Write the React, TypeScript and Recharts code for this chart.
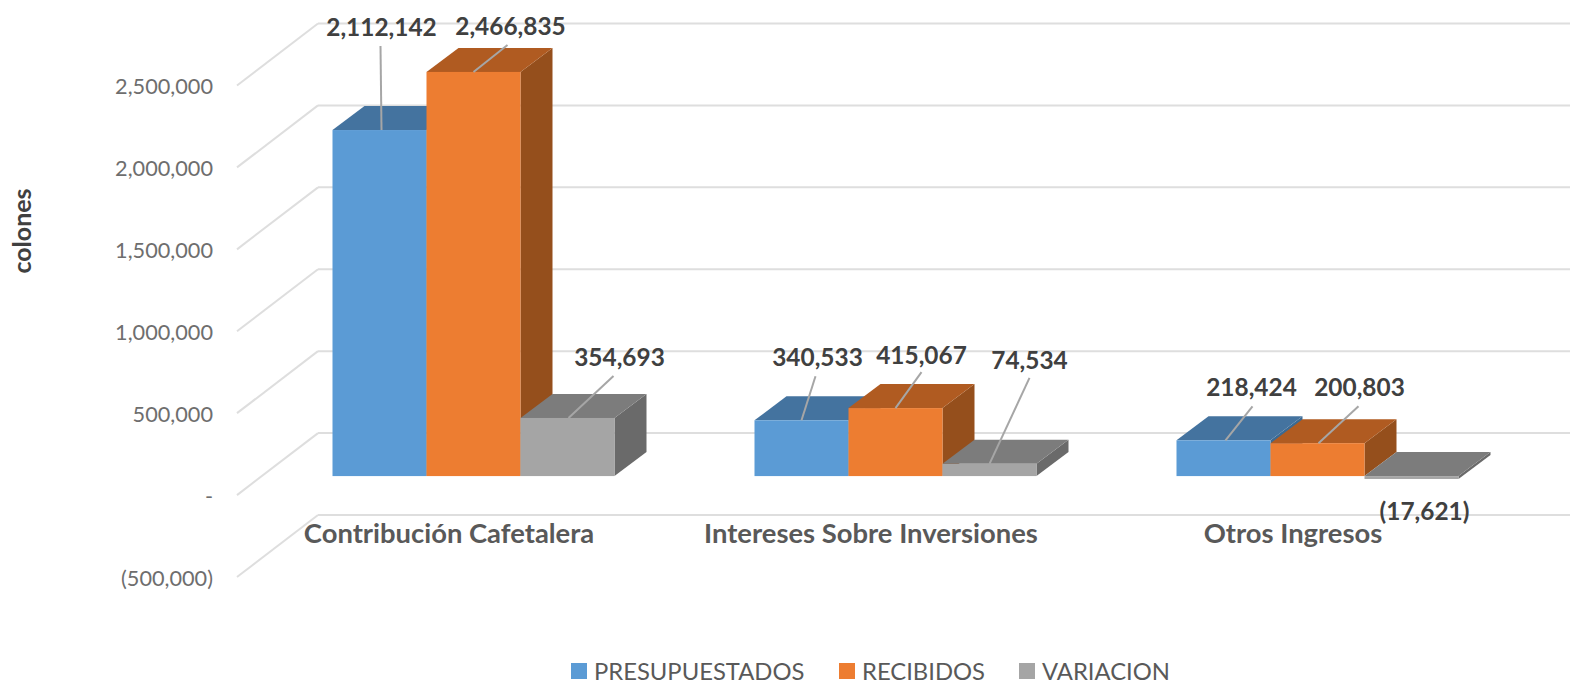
import React from 'react';
import { BarChart, Bar, XAxis, YAxis, CartesianGrid, Legend, LabelList } from 'recharts';

const CATEGORIES = ['Contribución Cafetalera', 'Intereses Sobre Inversiones', 'Otros Ingresos'];
const PRESUPUESTADOS = [2112142, 340533, 218424];
const RECIBIDOS = [2466835, 415067, 200803];
const VARIACION = [354693, 74534, -17621];
const Y_TICKS = [-500000, 0, 500000, 1000000, 1500000, 2000000, 2500000];

const rows = CATEGORIES.map((name, i) => ({
  name,
  PRESUPUESTADOS: PRESUPUESTADOS[i],
  RECIBIDOS: RECIBIDOS[i],
  VARIACION: VARIACION[i],
}));

const DEPTH_X = 32;
const DEPTH_Y = 24;
const FONT = 'Lato, "Open Sans", sans-serif';

const PALETTE = {
  PRESUPUESTADOS: { front: '#5B9BD5', top: '#44739F', side: '#3B6A93' },
  RECIBIDOS: { front: '#ED7D31', top: '#B05B21', side: '#954F1C' },
  VARIACION: { front: '#A5A5A5', top: '#7C7C7C', side: '#6A6A6A' },
};

// Label placement relative to each bar's top-left corner: text centre, leader start, leader end.
const LABEL_LAYOUT = {
  PRESUPUESTADOS: [
    { t: [49, -104], a: [49, 0], b: [48, -84] },
    { t: [63, -64], a: [47, 0], b: [61, -44] },
    { t: [75, -54], a: [49, 0], b: [76, -34] },
  ],
  RECIBIDOS: [
    { t: [84, -46], a: [47, 0], b: [81, -27] },
    { t: [73, -54], a: [47, 0], b: [73, -36] },
    { t: [89, -57], a: [48, 0], b: [88, -37] },
  ],
  VARIACION: [
    { t: [99, -61], a: [48, 0], b: [93, -42] },
    { t: [87, -104], a: [47, 0], b: [87, -86] },
    { t: [60, 34], a: null, b: null },
  ],
};

const LEGEND_LEFT = { PRESUPUESTADOS: 571, RECIBIDOS: 839, VARIACION: 1019 };

const fmt = (v: number) => {
  if (v === 0) return '-';
  const s = Math.abs(v).toLocaleString('en-US');
  return v < 0 ? `(${s})` : s;
};

const Box3D = (key: keyof typeof PALETTE) => (props: any) => {
  const { x, y, width, height } = props;
  const c = PALETTE[key];
  const top = Math.min(y, y + height);
  const h = Math.abs(height);
  const r = x + width;
  return (
    <g>
      <polygon
        points={`${r},${top} ${r + DEPTH_X},${top - DEPTH_Y} ${r + DEPTH_X},${top + h - DEPTH_Y} ${r},${top + h}`}
        fill={c.side}
      />
      <polygon
        points={`${x},${top} ${x + DEPTH_X},${top - DEPTH_Y} ${r + DEPTH_X},${top - DEPTH_Y} ${r},${top}`}
        fill={c.top}
      />
      <rect x={x} y={top} width={width} height={h} fill={c.front} />
    </g>
  );
};

const DataLabel = (key: keyof typeof LABEL_LAYOUT) => (props: any) => {
  const { x, y, height, value, index } = props;
  const top = Math.min(y, y + height);
  const l = LABEL_LAYOUT[key][index];
  return (
    <g>
      {l.a && (
        <line x1={x + l.a[0]} y1={top + l.a[1]} x2={x + l.b[0]} y2={top + l.b[1]} stroke="#A6A6A6" strokeWidth={2} />
      )}
      <text
        x={x + l.t[0]}
        y={top + l.t[1]}
        textAnchor="middle"
        dominantBaseline="central"
        fontFamily={FONT}
        fontWeight={700}
        fontSize={24.4}
        fill="#404040"
      >
        {fmt(value)}
      </text>
    </g>
  );
};

const gridLine = (p: any) => {
  const { x1, y1, index } = p;
  return (
    <g key={`g-${index}`} stroke="#DEDEDE" strokeWidth={2} fill="none">
      <line x1={x1 - 25.5} y1={y1 + 19} x2={x1 + 55.5} y2={y1 - 43} />
      <line x1={x1 + 55.5} y1={y1 - 43} x2={1570} y2={y1 - 43} />
    </g>
  );
};

const YTick = (p: any) => (
  <text x={213} y={p.y + 19.5} textAnchor="end" dominantBaseline="central" fontFamily={FONT} fontSize={21.7} fill="#6E6E6E">
    {fmt(p.payload.value)}
  </text>
);

const XTick = (p: any) => (
  <text x={p.x - 24.5} y={532} textAnchor="middle" dominantBaseline="central" fontFamily={FONT} fontWeight={700} fontSize={27.4} fill="#595959">
    {p.payload.value}
  </text>
);

const LegendContent = (p: any) => (
  <div style={{ position: 'relative', width: 1570, height: 30 }}>
    {(p.payload || []).map((it: any) => (
      <div
        key={it.value}
        style={{ position: 'absolute', left: LEGEND_LEFT[it.value as keyof typeof LEGEND_LEFT], top: 0, display: 'flex', alignItems: 'center', height: 30, whiteSpace: 'nowrap' }}
      >
        <span style={{ display: 'inline-block', width: 16, height: 16, background: PALETTE[it.value as keyof typeof PALETTE].front, marginRight: 7 }} />
        <span style={{ fontFamily: FONT, fontSize: 23.8, color: '#595959' }}>{it.value}</span>
      </div>
    ))}
  </div>
);

export default function App() {
  return (
    <div style={{ position: 'absolute', left: 0, top: 0, width: 1570, height: 683, background: '#fff' }}>
      <BarChart
        width={1570}
        height={683}
        data={rows}
        margin={{ top: 66.5, right: 41.5, bottom: 65, left: 22.5 }}
        barCategoryGap={0}
        barGap={0}
        barSize={94}
      >
        <CartesianGrid vertical={false} horizontal={gridLine} />
        <XAxis dataKey="name" interval={0} height={60} axisLine={false} tickLine={false} tick={XTick} />
        <YAxis
          width={240}
          domain={[-500000, 2500000]}
          ticks={Y_TICKS}
          interval={0}
          axisLine={false}
          tickLine={false}
          tick={YTick}
          label={{
            content: () => (
              <text
                transform="translate(21,231) rotate(-90)"
                textAnchor="middle"
                dominantBaseline="central"
                fontFamily={FONT}
                fontWeight={700}
                fontSize={25}
                fill="#404040"
              >
                colones
              </text>
            ),
          }}
        />
        <Legend
          layout="horizontal"
          verticalAlign="middle"
          align="center"
          wrapperStyle={{ left: 0, top: 656, width: 1570 }}
          content={LegendContent}
        />
        <Bar dataKey="PRESUPUESTADOS" isAnimationActive={false} shape={Box3D('PRESUPUESTADOS')} fill="#5B9BD5">
          <LabelList dataKey="PRESUPUESTADOS" content={DataLabel('PRESUPUESTADOS')} />
        </Bar>
        <Bar dataKey="RECIBIDOS" isAnimationActive={false} shape={Box3D('RECIBIDOS')} fill="#ED7D31">
          <LabelList dataKey="RECIBIDOS" content={DataLabel('RECIBIDOS')} />
        </Bar>
        <Bar dataKey="VARIACION" isAnimationActive={false} shape={Box3D('VARIACION')} fill="#A5A5A5">
          <LabelList dataKey="VARIACION" content={DataLabel('VARIACION')} />
        </Bar>
      </BarChart>
    </div>
  );
}
